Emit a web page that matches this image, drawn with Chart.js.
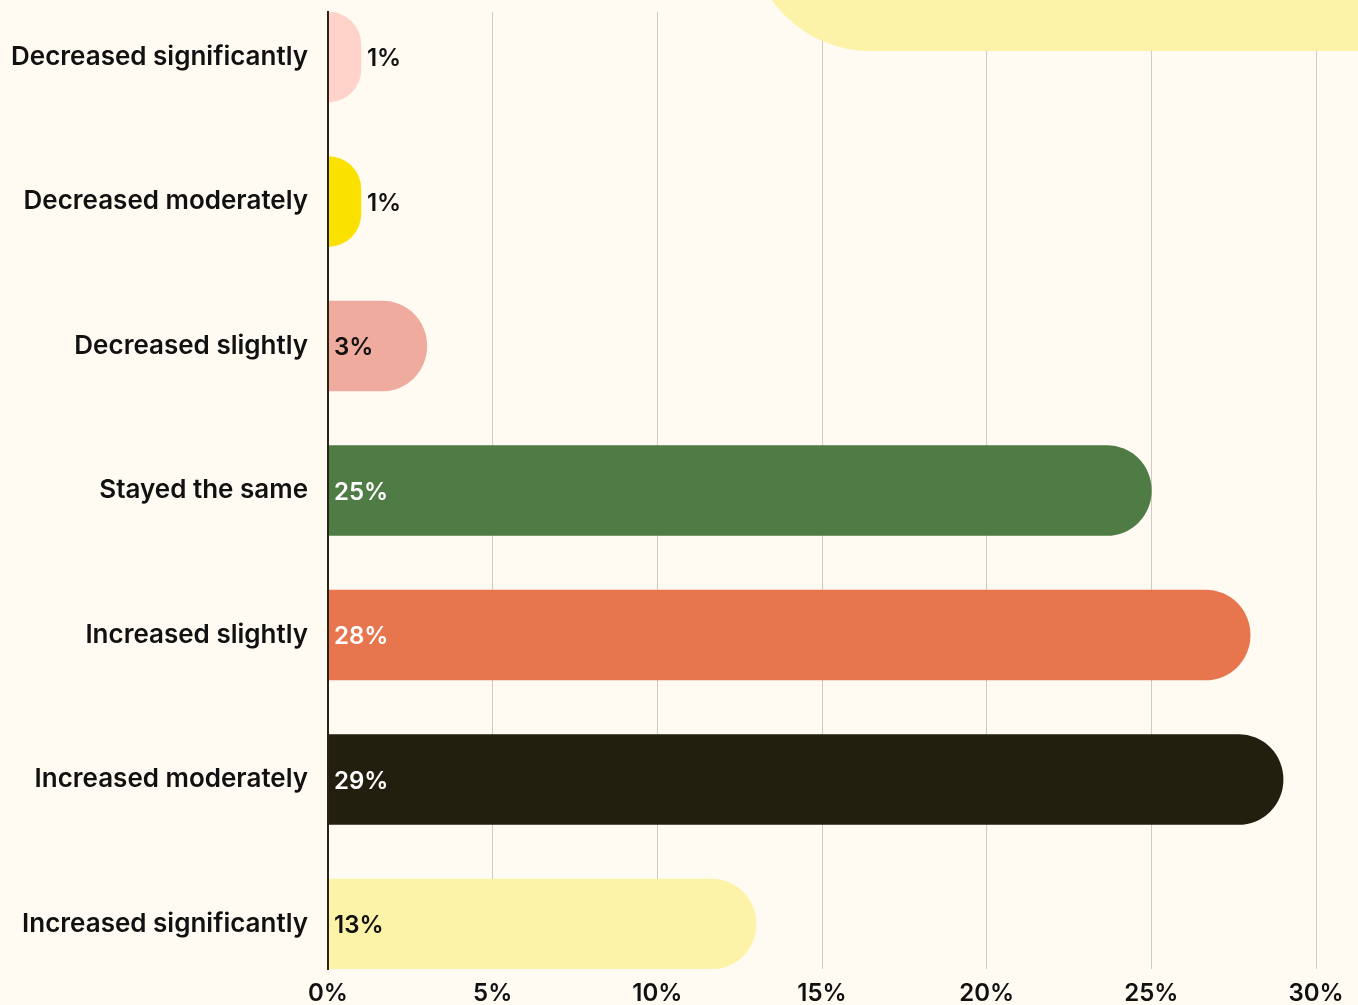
<!DOCTYPE html>
<html>
<head>
<meta charset="utf-8">
<script src="https://cdn.jsdelivr.net/npm/chart.js@4.4.1/dist/chart.umd.min.js"></script>
<style>
  html, body { margin: 0; padding: 0; background: #fffbf3; }
  #wrap { width: 1358px; height: 1005px; }
</style>
</head>
<body>
<div id="wrap"><canvas id="changeChart"></canvas></div>
<script>
const categories = [
    'Decreased significantly',
    'Decreased moderately',
    'Decreased slightly',
    'Stayed the same',
    'Increased slightly',
    'Increased moderately',
    'Increased significantly',
];
const shares = [1, 1, 3, 25, 28, 29, 13];
const xTicks = [0, 5, 10, 15, 20, 25, 30];

const barColors = ['#ffd3ca', '#fbe100', '#efab9d', '#4f7b45', '#e7764f', '#221f0f', '#fdf3a8'];
const valueColors = ['#111111', '#111111', '#111111', '#ffffff', '#ffffff', '#ffffff', '#111111'];

const FONT = 'Inter, "Noto Sans", sans-serif';

// Page background plus the yellow blob peeking in at the top right
const backdrop = {
    id: 'backdrop',
    beforeDraw(chart) {
        const ctx = chart.ctx;
        ctx.save();
        ctx.fillStyle = '#fffbf3';
        ctx.fillRect(0, 0, chart.width, chart.height);
        ctx.restore();
    },
    beforeDatasetsDraw(chart) {
        const ctx = chart.ctx;
        ctx.save();
        ctx.fillStyle = '#fdf3a8';
        ctx.beginPath();
        ctx.roundRect(750, -400, 800, 451, 120);
        ctx.fill();
        ctx.restore();
    },
};

// Percent labels: inside the bar, or just past its end when the bar is too short
const valueLabels = {
    id: 'valueLabels',
    afterDatasetsDraw(chart) {
        const ctx = chart.ctx;
        const left = chart.chartArea.left;
        const meta = chart.getDatasetMeta(0);
        ctx.save();
        ctx.font = '600 24px ' + FONT;
        ctx.textBaseline = 'middle';
        ctx.textAlign = 'left';
        meta.data.forEach((bar, i) => {
            const text = shares[i] + '%';
            const w = ctx.measureText(text).width;
            if (bar.x - left < w + 14) {
                ctx.fillStyle = '#111111';
                ctx.fillText(text, bar.x + 6, bar.y + 2);
            } else {
                ctx.fillStyle = valueColors[i];
                ctx.fillText(text, left + 6, bar.y + 2);
            }
        });
        ctx.restore();
    },
};

const ctx = document.getElementById('changeChart').getContext('2d');

new Chart(ctx, {
    type: 'bar',
    data: {
        datasets: [{
            // each bar is mirrored past zero so short bars keep a full round end;
            // the mirrored half is clipped away by the chart area
            data: shares.map((v, i) => ({ x: [-v, v], y: i })),
            backgroundColor: barColors,
            borderWidth: 0,
            borderRadius: 45,
            borderSkipped: 'start',
            barThickness: 90,
            // keep the axis line visible at the left edge
            clip: { left: -1, top: 0, right: 0, bottom: 0 },
        }],
    },
    plugins: [backdrop, valueLabels],
    options: {
        indexAxis: 'y',
        responsive: true,
        maintainAspectRatio: false,
        animation: false,
        layout: { padding: { top: 12, right: 42, left: 0, bottom: 0 } },
        plugins: {
            legend: { display: false },
            tooltip: { enabled: false },
        },
        scales: {
            x: {
                type: 'linear',
                min: 0,
                max: 30,
                afterBuildTicks: scale => {
                    scale.ticks = xTicks.map(v => ({ value: v }));
                },
                afterFit: scale => { scale.height = 36; },
                grid: {
                    color: '#cfcbc3',
                    lineWidth: 1,
                    drawTicks: false,
                },
                border: { display: false },
                ticks: {
                    padding: 10,
                    color: '#111111',
                    font: { family: FONT, size: 24, weight: '600' },
                    callback: value => `${value}%`,
                },
            },
            y: {
                type: 'linear',
                reverse: true,
                offset: false,
                min: -0.3114,
                max: 6.3114,
                afterFit: scale => {
                    scale.width = 328;
                    // labels sit well inside the axis, no extra room needed above/below
                    scale.paddingTop = 0;
                    scale.paddingBottom = 0;
                },
                grid: { display: false, drawTicks: false, offset: false },
                border: { display: true, color: '#2a2416', width: 2 },
                ticks: {
                    stepSize: 1,
                    includeBounds: false,
                    autoSkip: false,
                    padding: 20,
                    color: '#111111',
                    font: { family: FONT, size: 26, weight: '600' },
                    callback: value => (Number.isInteger(value) ? categories[value] : ''),
                },
            },
        },
    },
});
</script>
</body>
</html>
